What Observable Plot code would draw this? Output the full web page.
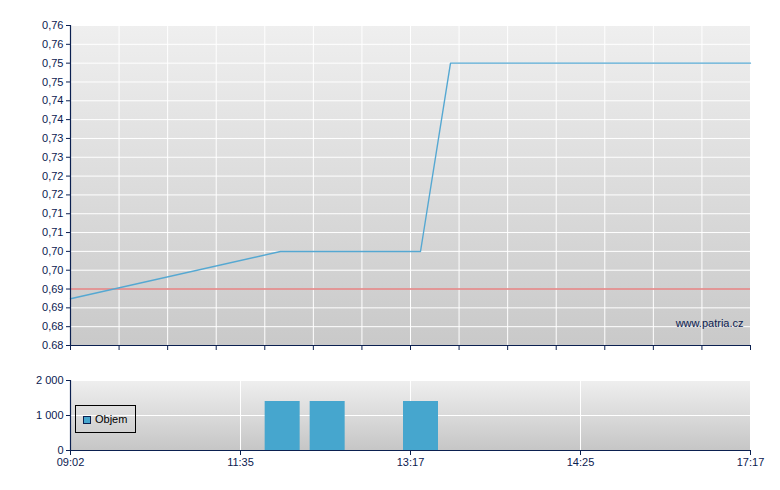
<!DOCTYPE html>
<html>
<head>
<meta charset="utf-8">
<script src="https://cdn.jsdelivr.net/npm/d3@7"></script>
<script src="https://cdn.jsdelivr.net/npm/@observablehq/plot@0.6"></script>
<style>
  html, body { margin: 0; padding: 0; background: #ffffff; }
  #wrap { position: relative; width: 780px; height: 490px; overflow: hidden; }
  #wrap svg { display: block; }
  #legend {
    position: absolute; left: 75px; top: 405px; width: 59px; height: 26px;
    border: 1px solid #000; font: 11px "Liberation Sans", Arial, sans-serif; color: #000;
  }
  #legend .sw {
    position: absolute; left: 7px; top: 10px; width: 6px; height: 6px;
    background: #46a6ce; border: 1px solid #0b2050;
  }
  #legend .lb { position: absolute; left: 19px; top: 7px; }
</style>
</head>
<body>
<div id="wrap"></div>
<script>
// ---- data ----
const xTickLabels = ["09:02", "11:35", "13:17", "14:25", "17:17"];
const priceTimes = ["09:02", "11:59", "13:21", "13:33", "17:17"];
const priceValues = [0.6917, 0.7035, 0.7035, 0.7506, 0.7506];
const refPrice = 0.6941;
const volTimes = ["12:00", "12:27", "13:21"];
const volValues = [1400, 1400, 1400];
const yDomain = [0.68, 0.76];
const yTickLabels = ["0.68", "0,68", "0,69", "0,69", "0,70", "0,70", "0,71", "0,71", "0,72",
  "0,72", "0,73", "0,73", "0,74", "0,74", "0,75", "0,75", "0,76", "0,76"];
const volTicks = [0, 1000, 2000];
const volTickLabels = ["0", "1 000", "2 000"];

// ---- helpers ----
const NAVY = "#0b2050";
const toMin = s => { const [h, m] = s.split(":"); return +h * 60 + +m; };
const slot = d3.scaleLinear().domain(xTickLabels.map(toMin)).range(d3.range(xTickLabels.length));
const nSlots = xTickLabels.length - 1;

const priceData = priceTimes.map((t, i) => ({x: slot(toMin(t)), y: priceValues[i]}));
const volData = volTimes.map((t, i) => ({x: slot(toMin(t)), v: volValues[i]}));

const yTicks = d3.range(yTickLabels.length).map(k => yDomain[0] + k * (yDomain[1] - yDomain[0]) / (yTickLabels.length - 1));
const topXTicks = d3.range(15).map(k => k * nSlots / 14);

function gradientBg(id, c0, c1) {
  return (index, scales, values, dims) => {
    const g = d3.create("svg:g");
    const grad = g.append("defs").append("linearGradient").attr("id", id)
      .attr("x1", 0).attr("y1", 0).attr("x2", 0).attr("y2", 1);
    grad.append("stop").attr("offset", "0").attr("stop-color", c0);
    grad.append("stop").attr("offset", "1").attr("stop-color", c1);
    g.append("rect")
      .attr("x", dims.marginLeft).attr("y", dims.marginTop)
      .attr("width", dims.width - dims.marginLeft - dims.marginRight)
      .attr("height", dims.height - dims.marginTop - dims.marginBottom)
      .attr("fill", `url(#${id})`);
    return g.node();
  };
}

const style = {fontFamily: "'Liberation Sans', Arial, sans-serif", fontSize: "11px", color: NAVY, background: "transparent", overflow: "visible"};

const topPlot = Plot.plot({
  width: 780, height: 360,
  marginLeft: 70, marginRight: 30, marginTop: 25, marginBottom: 15,
  style,
  x: {type: "linear", domain: [0, nSlots], axis: null, label: null},
  y: {domain: yDomain, axis: null, label: null},
  marks: [
    gradientBg("gTop", "#efefef", "#c9c9c9"),
    Plot.gridX(topXTicks, {stroke: "#ffffff", strokeOpacity: 1, strokeWidth: 1}),
    Plot.gridY(yTicks, {stroke: "#ffffff", strokeOpacity: 1, strokeWidth: 1}),
    Plot.ruleY([refPrice], {stroke: "#e07b7b", strokeWidth: 1.5}),
    Plot.line(priceData, {x: "x", y: "y", stroke: "#55a8d2", strokeWidth: 1.4}),
    Plot.axisY(yTicks, {label: null, tickSize: 4, tickPadding: 3, tickFormat: d => yTickLabels[yTicks.indexOf(d)], stroke: NAVY, fill: NAVY}),
    Plot.axisX(topXTicks, {label: null, tickSize: 5, tickFormat: () => "", stroke: NAVY}),
    Plot.ruleX([0], {stroke: NAVY, strokeWidth: 1.2}),
    Plot.ruleY([yDomain[0]], {stroke: NAVY, strokeWidth: 1.2}),
    Plot.text(["www.patria.cz"], {frameAnchor: "bottom-right", lineAnchor: "middle", dx: -7, dy: -22, fill: NAVY})
  ]
});

const botPlot = Plot.plot({
  width: 780, height: 130,
  marginLeft: 70, marginRight: 30, marginTop: 20, marginBottom: 40,
  style,
  x: {type: "linear", domain: [0, nSlots], axis: null, label: null},
  y: {domain: [0, 2000], axis: null, label: null},
  marks: [
    gradientBg("gBot", "#efefef", "#c6c6c6"),
    Plot.gridX(d3.range(1, nSlots + 1), {stroke: "#ffffff", strokeOpacity: 1, strokeWidth: 1}),
    Plot.gridY(volTicks.slice(1), {stroke: "#ffffff", strokeOpacity: 1, strokeWidth: 1}),
    Plot.ruleX(volData, {x: "x", y1: 0, y2: "v", stroke: "#46a6ce", strokeWidth: 35}),
    Plot.axisY(volTicks, {label: null, tickSize: 4, tickPadding: 3, tickFormat: d => volTickLabels[volTicks.indexOf(d)], stroke: NAVY, fill: NAVY}),
    Plot.axisX(d3.range(0, nSlots + 1), {label: null, tickSize: 5, tickPadding: 3, tickFormat: d => xTickLabels[d], stroke: NAVY, fill: NAVY}),
    Plot.ruleX([0], {stroke: NAVY, strokeWidth: 1.2}),
    Plot.ruleY([0], {stroke: NAVY, strokeWidth: 1.2})
  ]
});

const wrap = document.getElementById("wrap");
wrap.appendChild(topPlot);
wrap.appendChild(botPlot);
const legend = document.createElement("div");
legend.id = "legend";
legend.innerHTML = '<div class="sw"></div><div class="lb">Objem</div>';
wrap.appendChild(legend);
</script>
</body>
</html>
